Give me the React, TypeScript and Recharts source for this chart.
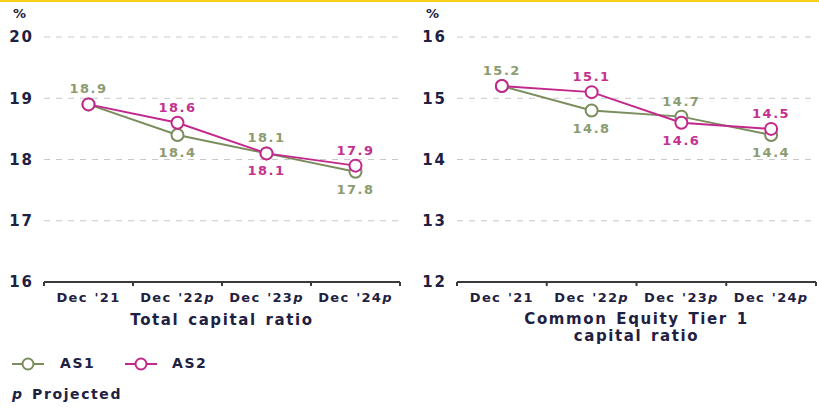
import { CartesianGrid, LabelList, Line, LineChart, XAxis, YAxis } from 'recharts'

const categories = ["Dec '21", "Dec '22p", "Dec '23p", "Dec '24p"]
const totalAS1 = [18.9, 18.4, 18.1, 17.8]
const totalAS2 = [18.9, 18.6, 18.1, 17.9]
const cet1AS1 = [15.2, 14.8, 14.7, 14.4]
const cet1AS2 = [15.2, 15.1, 14.6, 14.5]
const totalTicks = [16, 17, 18, 19, 20]
const cet1Ticks = [12, 13, 14, 15, 16]
// which side of the marker each value label sits on (null = hidden)
const as1LabelSide = ['top', 'bottom', 'top', 'bottom']
const as2LabelSide = [null, 'top', 'bottom', 'top']

const AS1_COLOR = '#7b8d5d'
const AS2_COLOR = '#c2288b'
const AS1_TEXT = '#8d9b70'
const AS2_TEXT = '#c4318f'
const NAVY = '#1f2142'
const AXIS = '#3a3a3a'
const FONT = '"DejaVu Sans", Verdana, sans-serif'

// x runs 0..n; categories sit at band centres, tick marks at band edges
const xTicks = [0, ...categories.flatMap((_, i) => [i + 0.5, i + 1])]

const makeLabel =
  (sides: (string | null)[], color: string) =>
  (props: any) => {
    const { x, y, value, index } = props
    const side = sides[index]
    if (!side) return null
    return (
      <text
        x={x}
        y={side === 'top' ? y - 11 : y + 22}
        textAnchor="middle"
        fill={color}
        fontFamily={FONT}
        fontWeight="bold"
        fontSize={13}
        letterSpacing={1.5}
      >
        {value.toFixed(1)}
      </text>
    )
  }

const EdgeTick = (props: any) => {
  const { x, y, payload } = props
  const v: number = payload.value
  if (Number.isInteger(v)) {
    return <line x1={x} y1={y} x2={x} y2={y + 4} stroke={AXIS} strokeWidth={2} />
  }
  const label = categories[Math.floor(v)]
  const projected = label.endsWith('p')
  return (
    <text
      x={x}
      y={y + 11}
      dy="0.71em"
      textAnchor="middle"
      fill={NAVY}
      fontFamily={FONT}
      fontWeight="bold"
      fontSize={13}
      letterSpacing={1.3}
      wordSpacing={1}
    >
      {projected ? label.slice(0, -1) : label}
      {projected && <tspan fontStyle="italic">p</tspan>}
    </text>
  )
}

interface PanelProps {
  as1: number[]
  as2: number[]
  ticks: number[]
  width: number
  marginLeft: number
  marginRight: number
}

const Panel = ({ as1, as2, ticks, width, marginLeft, marginRight }: PanelProps) => {
  const data = categories.map((c, i) => ({ cat: c, pos: i + 0.5, as1: as1[i], as2: as2[i] }))
  return (
    <LineChart
      width={width}
      height={304}
      data={data}
      margin={{ top: 37, right: marginRight, bottom: 0, left: marginLeft }}
    >
      <CartesianGrid vertical={false} stroke="#c8c8c8" strokeDasharray="6 6" />
      <XAxis
        dataKey="pos"
        type="number"
        domain={[0, categories.length]}
        ticks={xTicks}
        interval={0}
        allowDataOverflow
        height={22}
        tickSize={0}
        tickMargin={0}
        tickLine={false}
        axisLine={{ stroke: AXIS, strokeWidth: 2 }}
        tick={<EdgeTick />}
      />
      <YAxis
        domain={[ticks[0], ticks[ticks.length - 1]]}
        ticks={ticks}
        width={36}
        axisLine={false}
        tickLine={false}
        tickMargin={4}
        tick={{ fill: NAVY, fontFamily: FONT, fontWeight: 'bold', fontSize: 15, letterSpacing: 2 }}
      />
      <Line
        dataKey="as1"
        type="linear"
        stroke={AS1_COLOR}
        strokeWidth={2}
        dot={{ r: 6, fill: '#fff', stroke: AS1_COLOR, strokeWidth: 2 }}
        isAnimationActive={false}
      >
        <LabelList dataKey="as1" content={makeLabel(as1LabelSide, AS1_TEXT)} />
      </Line>
      <Line
        dataKey="as2"
        type="linear"
        stroke={AS2_COLOR}
        strokeWidth={2}
        dot={{ r: 6, fill: '#fff', stroke: AS2_COLOR, strokeWidth: 2 }}
        isAnimationActive={false}
      >
        <LabelList dataKey="as2" content={makeLabel(as2LabelSide, AS2_TEXT)} />
      </Line>
    </LineChart>
  )
}

const LegendIcon = ({ color }: { color: string }) => (
  <svg width={34} height={14} style={{ display: 'block' }}>
    <line x1={1} y1={7} x2={33} y2={7} stroke={color} strokeWidth={2} />
    <circle cx={17} cy={7} r={5.5} fill="#fff" stroke={color} strokeWidth={2} />
  </svg>
)

const textStyle = {
  position: 'absolute' as const,
  color: NAVY,
  fontFamily: FONT,
  fontWeight: 'bold' as const,
  fontSize: 15,
  letterSpacing: 1.6,
  wordSpacing: 2,
  whiteSpace: 'nowrap' as const,
}

export default function App() {
  return (
    <div
      style={{
        position: 'absolute',
        left: 0,
        top: 0,
        width: 819,
        height: 408,
        background: '#fff',
        overflow: 'hidden',
      }}
    >
      <div style={{ position: 'absolute', left: 0, top: 0, width: 819, height: 2, background: '#f6cf1a' }} />
      <div style={{ position: 'absolute', left: 0, top: 0 }}>
        <Panel as1={totalAS1} as2={totalAS2} ticks={totalTicks} width={410} marginLeft={8} marginRight={10} />
      </div>
      <div style={{ position: 'absolute', left: 410, top: 0 }}>
        <Panel as1={cet1AS1} as2={cet1AS2} ticks={cet1Ticks} width={409} marginLeft={11} marginRight={3} />
      </div>
      <div style={{ ...textStyle, left: 13, top: 6, fontSize: 13, letterSpacing: 0 }}>%</div>
      <div style={{ ...textStyle, left: 426, top: 6, fontSize: 13, letterSpacing: 0 }}>%</div>
      <div style={{ ...textStyle, left: 44, width: 356, top: 311, textAlign: 'center' }}>Total capital ratio</div>
      <div style={{ ...textStyle, left: 457, width: 359, top: 311, textAlign: 'center', lineHeight: '17px' }}>
        Common Equity Tier 1
        <br />
        capital ratio
      </div>
      <div style={{ position: 'absolute', left: 11, top: 357 }}>
        <LegendIcon color={AS1_COLOR} />
      </div>
      <div style={{ ...textStyle, fontSize: 14, left: 60, top: 355 }}>AS1</div>
      <div style={{ position: 'absolute', left: 124, top: 357 }}>
        <LegendIcon color={AS2_COLOR} />
      </div>
      <div style={{ ...textStyle, fontSize: 14, left: 172, top: 355 }}>AS2</div>
      <div style={{ ...textStyle, fontSize: 14, left: 12, top: 386 }}>
        <span style={{ fontStyle: 'italic' }}>p</span> Projected
      </div>
    </div>
  )
}
